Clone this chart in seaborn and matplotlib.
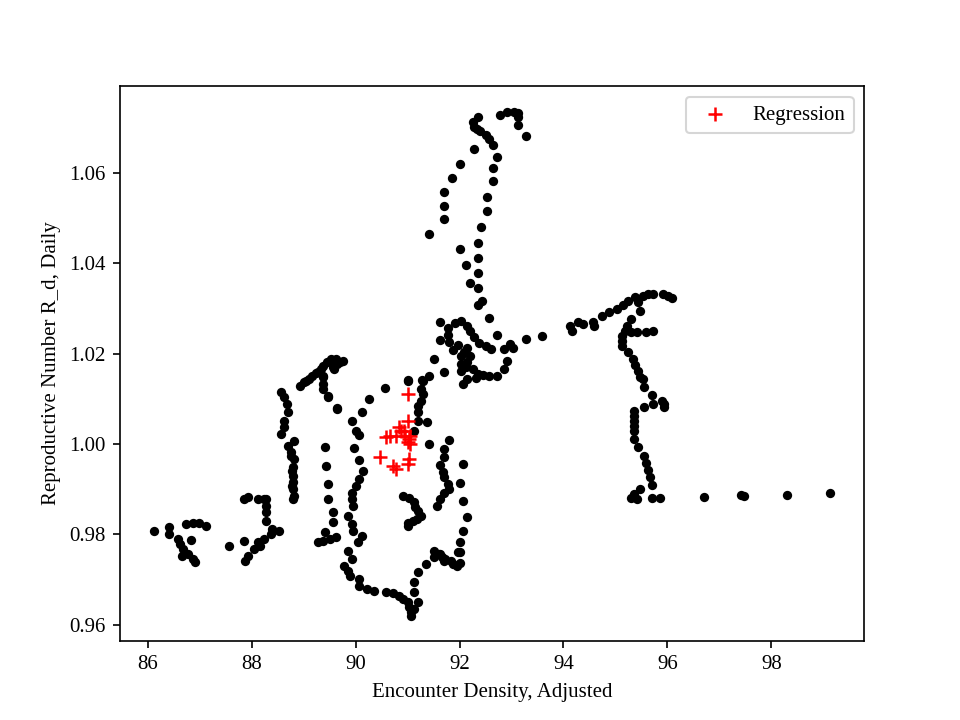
import numpy as np
import pandas as pd
import matplotlib
matplotlib.use("Agg")
import matplotlib.pyplot as plt
import seaborn as sns

# trajectory, split into pieces (x: density, y: R_d)
tail_x = [96.71, 97.42, 97.48, 98.29, 99.13]
tail_y = [0.9883, 0.9887, 0.9885, 0.9887, 0.9892]

east_x = [95.48, 95.35, 95.29, 95.42, 95.71, 95.85, 95.71, 95.67, 95.63, 95.58,
          95.54, 95.44, 95.35, 95.35, 95.35, 95.35, 95.35, 95.35, 95.54, 95.73,
          95.90, 95.94, 95.94, 95.71, 95.54, 95.52, 95.48, 95.44, 95.38, 95.33,
          95.25, 95.13, 95.13, 95.13, 95.19, 95.23, 95.29, 95.48, 95.44, 95.29,
          95.42, 95.58, 95.73]
east_y = [0.9901, 0.9890, 0.9881, 0.9878, 0.9881, 0.9881, 0.9909, 0.9927, 0.9943, 0.9958,
          0.9973, 0.9993, 1.0011, 1.0029, 1.0040, 1.0051, 1.0062, 1.0073, 1.0082, 1.0088,
          1.0095, 1.0088, 1.0082, 1.0108, 1.0126, 1.0144, 1.0148, 1.0161, 1.0175, 1.0188,
          1.0203, 1.0217, 1.0228, 1.0239, 1.0250, 1.0261, 1.0276, 1.0294, 1.0314, 1.0248,
          1.0248, 1.0248, 1.0250]

bridge_x = [94.13, 94.17, 94.27, 94.38, 94.56, 94.58, 94.75, 94.87, 95.02, 95.15,
            95.25, 95.38, 95.52, 95.63, 95.73, 95.92, 96.02, 96.08, 93.58, 93.27]
bridge_y = [1.0261, 1.0250, 1.0270, 1.0265, 1.0270, 1.0261, 1.0283, 1.0292, 1.0298, 1.0307,
            1.0316, 1.0325, 1.0327, 1.0332, 1.0332, 1.0332, 1.0327, 1.0323, 1.0239, 1.0232]

centre_x = [92.00, 92.35, 92.13, 92.35, 92.21, 92.35, 92.44, 92.35, 92.56, 91.63,
            91.92, 92.02, 92.15, 91.77, 92.21, 91.77, 91.63, 91.79, 92.27, 92.37,
            92.73, 91.87, 92.15, 92.50, 92.60, 92.85, 92.98, 93.02, 92.02, 92.21,
            91.50, 92.02, 92.15, 92.92, 92.02, 92.25, 92.85, 92.35, 92.46, 92.56,
            92.73, 91.71, 91.42, 91.27, 91.00, 92.06, 92.15, 92.31, 92.08, 92.12,
            91.98]
centre_y = [1.0431, 1.0411, 1.0396, 1.0378, 1.0356, 1.0345, 1.0316, 1.0307, 1.0278, 1.0270,
            1.0267, 1.0272, 1.0261, 1.0256, 1.0250, 1.0241, 1.0230, 1.0225, 1.0236, 1.0223,
            1.0241, 1.0208, 1.0212, 1.0217, 1.0210, 1.0210, 1.0221, 1.0212, 1.0194, 1.0194,
            1.0188, 1.0177, 1.0181, 1.0183, 1.0161, 1.0166, 1.0166, 1.0155, 1.0152, 1.0150,
            1.0150, 1.0159, 1.0150, 1.0141, 1.0141, 1.0133, 1.0144, 1.0146, 1.0203, 1.0170,
            1.0219]

peak_x = [92.77, 92.92, 93.04, 93.13, 93.13, 93.13, 93.27, 92.35, 92.25, 92.27,
          92.33, 92.40, 92.50, 92.56, 92.65, 92.73, 92.65, 92.65, 92.52, 92.52,
          92.42, 92.35, 92.27, 92.00, 91.85, 91.71, 91.71, 91.71, 91.42]
peak_y = [1.0729, 1.0736, 1.0736, 1.0732, 1.0723, 1.0707, 1.0681, 1.0723, 1.0712, 1.0703,
          1.0698, 1.0692, 1.0685, 1.0676, 1.0661, 1.0636, 1.0612, 1.0583, 1.0548, 1.0515,
          1.0480, 1.0446, 1.0654, 1.0621, 1.0588, 1.0557, 1.0526, 1.0499, 1.0466]

arc_x = [89.71, 89.62, 89.52, 89.46, 89.38, 89.33, 89.27, 89.17, 89.10, 89.00,
         88.94, 89.37, 89.37, 89.37, 89.48, 89.65, 89.56, 89.65, 89.75, 89.04,
         89.23, 89.58, 89.38]
arc_y = [1.0181, 1.0188, 1.0188, 1.0181, 1.0172, 1.0166, 1.0159, 1.0150, 1.0144, 1.0137,
         1.0128, 1.0148, 1.0133, 1.0122, 1.0104, 1.0080, 1.0170, 1.0177, 1.0183, 1.0139,
         1.0157, 1.0166, 1.0150]

west_x = [88.56, 88.62, 88.69, 88.71, 88.62, 88.62, 88.56, 88.81, 88.71, 88.75,
          88.81, 88.79, 88.79, 88.79, 88.79, 88.81, 88.79, 88.75, 88.77, 88.77]
west_y = [1.0115, 1.0104, 1.0088, 1.0071, 1.0051, 1.0038, 1.0022, 1.0007, 0.9996, 0.9982,
          0.9967, 0.9949, 0.9929, 0.9916, 0.9901, 0.9885, 0.9878, 0.9973, 0.9940, 0.9907]

col1_x = [89.48, 89.65, 89.42, 89.44, 89.48, 89.48, 89.56, 89.56, 89.63, 89.42,
          89.37, 89.27, 89.50]
col1_y = [1.0106, 1.0077, 0.9993, 0.9951, 0.9912, 0.9878, 0.9850, 0.9828, 0.9794, 0.9806,
          0.9786, 0.9783, 0.9790]

col2_x = [90.25, 90.56, 90.13, 89.94, 90.00, 90.06, 89.98, 90.06, 90.15, 90.06,
          90.00, 89.94, 89.94, 89.96, 89.85, 89.94, 89.96, 90.13, 90.04, 89.85,
          89.94, 89.77, 89.85, 89.90, 90.06, 90.06, 90.23, 90.35, 90.58, 90.73,
          90.83, 90.92, 91.00, 91.02, 91.06, 91.06, 91.12, 91.21, 91.13, 91.13,
          91.21, 91.35, 91.50, 91.60, 91.67, 91.73, 91.83, 91.88, 91.96, 91.98,
          91.71, 91.63, 91.50, 92.00]
col2_y = [1.0099, 1.0124, 1.0071, 1.0051, 1.0029, 1.0020, 0.9991, 0.9965, 0.9940, 0.9923,
          0.9907, 0.9892, 0.9878, 0.9863, 0.9841, 0.9823, 0.9808, 0.9797, 0.9783, 0.9764,
          0.9746, 0.9730, 0.9719, 0.9708, 0.9702, 0.9686, 0.9680, 0.9675, 0.9673, 0.9671,
          0.9664, 0.9657, 0.9651, 0.9640, 0.9629, 0.9620, 0.9635, 0.9651, 0.9673, 0.9695,
          0.9717, 0.9735, 0.9764, 0.9757, 0.9750, 0.9746, 0.9741, 0.9735, 0.9730, 0.9761,
          0.9741, 0.9757, 0.9750, 0.9737]

mid_x = [91.00, 91.29, 91.25, 91.29, 91.25, 91.21, 91.21, 91.21, 91.37, 91.13,
         91.42, 91.79, 91.71, 91.71, 91.63, 91.69, 91.71, 91.77, 91.79, 91.71,
         91.63, 91.56, 92.06, 92.00, 92.06, 92.15, 92.06, 92.00, 92.00,
         90.92, 91.02, 91.12, 91.15, 91.21, 91.25, 91.19, 91.10, 91.00, 91.00]
mid_y = [1.0139, 1.0139, 1.0122, 1.0110, 1.0095, 1.0084, 1.0071, 1.0051, 1.0049, 1.0029,
         1.0000, 1.0009, 0.9989, 0.9971, 0.9954, 0.9938, 0.9927, 0.9912, 0.9901, 0.9892,
         0.9878, 0.9863, 0.9956, 0.9914, 0.9874, 0.9839, 0.9808, 0.9783, 0.9761,
         0.9885, 0.9881, 0.9872, 0.9861, 0.9852, 0.9841, 0.9834, 0.9830, 0.9825, 0.9819]

sw_x = [88.23, 88.27, 88.27, 88.27, 88.40, 88.52, 88.37, 88.23, 88.17, 88.12,
        88.04, 87.94, 87.88, 87.85, 87.56, 87.85, 87.94, 88.13, 88.27,
        86.12, 86.42, 86.42, 86.73, 86.87, 86.98, 87.13, 86.58, 86.63, 86.69,
        86.83, 86.77, 86.87, 86.92, 86.67]
sw_y = [0.9878, 0.9863, 0.9850, 0.9830, 0.9812, 0.9808, 0.9801, 0.9790, 0.9775, 0.9783,
        0.9768, 0.9752, 0.9741, 0.9786, 0.9775, 0.9878, 0.9883, 0.9878, 0.9878,
        0.9808, 0.9817, 0.9801, 0.9823, 0.9825, 0.9825, 0.9819, 0.9790, 0.9779, 0.9768,
        0.9788, 0.9757, 0.9746, 0.9739, 0.9752]

# regression points (red crosses)
reg_x = [91.00, 91.00, 90.83, 90.87, 90.58, 90.67, 90.77, 90.96, 91.02, 91.00,
         91.04, 90.48, 90.73, 90.77, 91.02, 91.00, 91.04, 90.94]
reg_y = [1.0110, 1.0051, 1.0038, 1.0029, 1.0015, 1.0018, 1.0018, 1.0018, 1.0011, 1.0004,
         1.0018, 0.9971, 0.9951, 0.9945, 0.9967, 0.9956, 1.0000, 1.0029]

traj = pd.DataFrame({
    'density': tail_x + east_x + bridge_x + centre_x + peak_x + arc_x + west_x
               + col1_x + col2_x + mid_x + sw_x,
    'rd': tail_y + east_y + bridge_y + centre_y + peak_y + arc_y + west_y
          + col1_y + col2_y + mid_y + sw_y,
})
reg = pd.DataFrame({'density': reg_x, 'rd': reg_y})

plt.rcParams['font.family'] = ['Liberation Serif', 'DejaVu Serif']

fig, ax = plt.subplots(figsize=(6.4, 4.8), dpi=150)
sns.scatterplot(data=traj, x='density', y='rd', color='black', s=20,
                linewidth=0, ax=ax)
sns.scatterplot(data=reg, x='density', y='rd', color='red', marker='+', s=48,
                linewidth=1.2, label='Regression', ax=ax)

ax.set_xlabel('Encounter Density, Adjusted')
ax.set_ylabel('Reproductive Number R_d, Daily')
ax.set_xticks([86, 88, 90, 92, 94, 96, 98])
ax.legend(loc='upper right')

fig.savefig('out.png', dpi=150)
